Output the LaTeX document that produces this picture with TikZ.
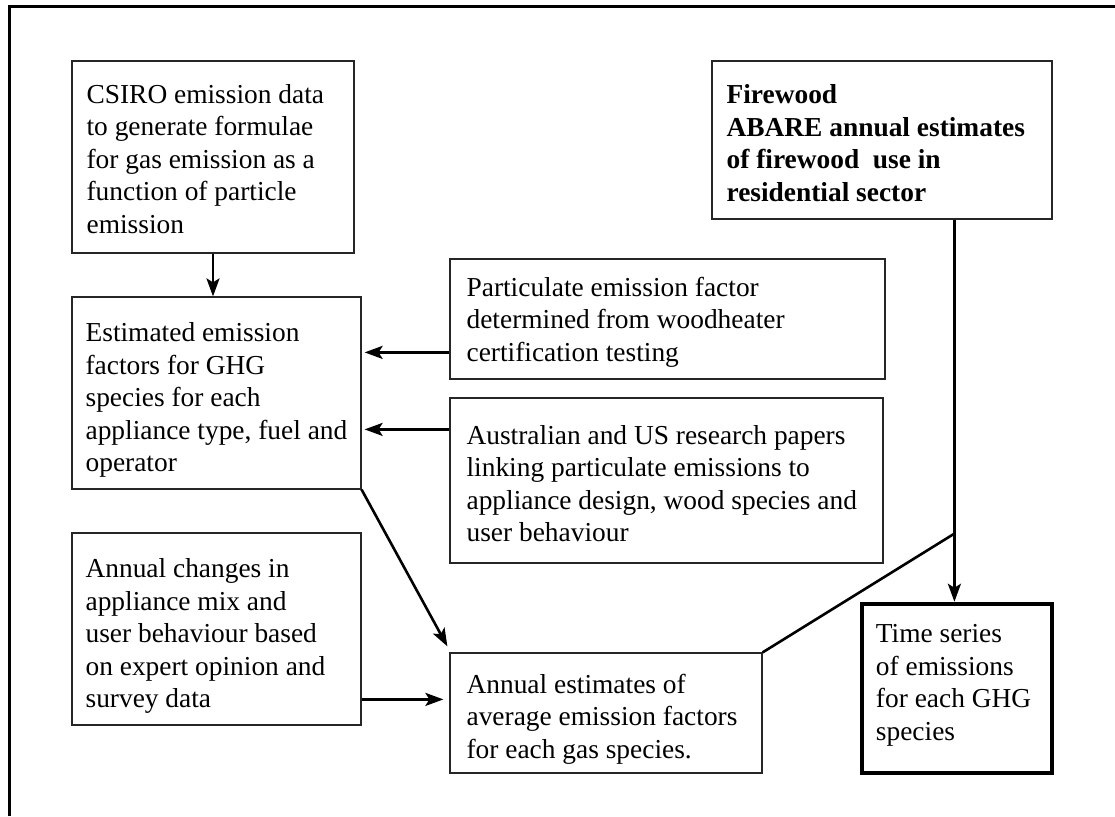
\documentclass[tikz,border=0pt]{standalone}
\usepackage{fontspec}
\setmainfont{Liberation Serif}
\usetikzlibrary{arrows.meta,calc}
\begin{document}
\begin{tikzpicture}[x=1pt,y=-1pt,
  box/.style={draw=black!85, line width=1.2pt, rectangle, inner sep=0pt},
  tsbox/.style={draw=black, line width=4.5pt, rectangle, inner sep=0pt},
  txt/.style={anchor=west, align=left, inner sep=0pt, font=\fontsize{27.4}{32.5}\selectfont},
  arr/.style={line width=2.6pt, -{Stealth[length=18pt,width=13pt,inset=4pt]}},
  ln/.style={line width=2.6pt}]
\useasboundingbox (0,0) rectangle (1115,816);
% frame
\draw[line width=3pt] (9,816) -- (9,7) -- (1115,7);
% boxes
\node[box, minimum width=282pt, minimum height=192pt] (csiro) at (213,157) {};
\node[box, minimum width=289pt, minimum height=192pt] (est) at (216.5,393) {};
\node[box, minimum width=435pt, minimum height=120pt] (part) at (667.5,319) {};
\node[box, minimum width=433pt, minimum height=165pt] (aus) at (666.5,480.5) {};
\node[box, minimum width=340pt, minimum height=158pt] (fire) at (882,140) {};
\node[box, minimum width=289pt, minimum height=192pt] (chg) at (216.5,629) {};
\node[box, minimum width=312pt, minimum height=120pt] (ann) at (606,713) {};
\node[tsbox, minimum width=190pt, minimum height=169pt] (ts) at (957,688.5) {};
% texts
\node[txt] (tcsiro) at ([xshift=15pt,yshift=-2pt]csiro.west) {CSIRO emission data\\to generate formulae\\for gas emission as a\\function of particle\\emission};
\node[txt] (test) at ([xshift=14pt,yshift=-7pt]est.west) {Estimated emission\\factors for GHG\\species for each\\appliance type, fuel and\\operator};
\node[txt] (tpart) at ([xshift=17pt,yshift=-3pt]part.west) {Particulate emission factor\\determined from woodheater\\certification testing};
\node[txt] (taus) at ([xshift=17pt,yshift=-3pt]aus.west) {Australian and US research papers\\linking particulate emissions to\\appliance design, wood species and\\user behaviour};
\node[txt, font=\fontsize{27.4}{32.5}\selectfont\bfseries] (tfire) at ([xshift=15pt,yshift=-3pt]fire.west) {Firewood\\ABARE annual estimates\\of firewood~ use in\\residential sector};
\node[txt] (tchg) at ([xshift=14pt,yshift=-7pt]chg.west) {Annual changes in\\appliance mix and\\user behaviour based\\on expert opinion and\\survey data};
\node[txt] (tann) at ([xshift=17pt,yshift=-6pt]ann.west) {Annual estimates of\\average emission factors\\for each gas species.};
\node[txt] (tts) at ([xshift=16pt,yshift=3pt]ts.west) {Time series\\of emissions\\for each GHG\\species};
% connectors
\draw[arr] (csiro.south) -- ([xshift=-3.5pt]est.north);
\draw[arr] ([yshift=-94pt]part.north west) -- ([yshift=-56pt,xshift=3pt]est.north east);
\draw[arr] ([yshift=-32pt]aus.north west) -- ([yshift=-133pt,xshift=3pt]est.north east);
\draw[arr] (est.south east) -- ([xshift=-2pt,yshift=6pt]ann.north west);
\draw[arr] ([yshift=-167pt]chg.north east) -- ([yshift=-47pt,xshift=-6pt]ann.north west);
\coordinate (junc) at ([xshift=243pt,yshift=-314pt]fire.south west);
\draw[ln] ([xshift=243pt]fire.south west) -- (junc);
\draw[arr] (junc) -- (junc |- ts.north);
\draw[ln] (junc) -- (ann.north east);
\end{tikzpicture}
\end{document}
